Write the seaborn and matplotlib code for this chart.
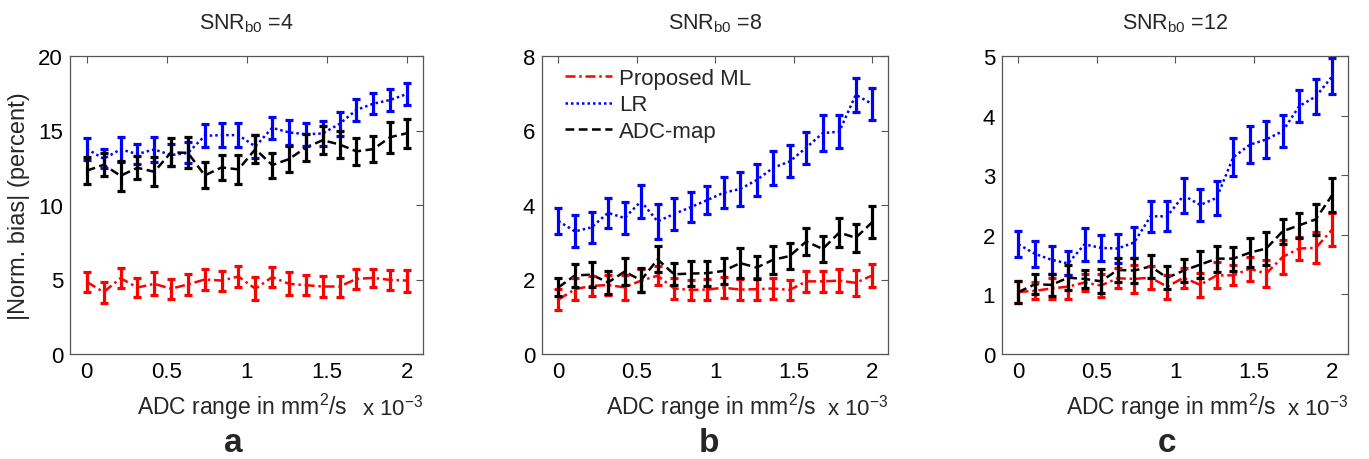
import matplotlib
matplotlib.use("Agg")
import matplotlib.pyplot as plt
import seaborn as sns
import numpy as np
import pandas as pd

# ADC values (x 10^-3 mm^2/s), 20 points between 0 and 2
adc = np.linspace(0, 2, 20)

snr_labels = ["4", "8", "12"]
panel_letters = ["a", "b", "c"]
ylims = [20, 8, 5]
yticks = [[0, 5, 10, 15, 20], [0, 2, 4, 6, 8], [0, 1, 2, 3, 4, 5]]

# SNR = 4
ml_4 = [4.84, 4.15, 5.09, 4.46, 4.71, 4.38, 4.67, 5.00, 4.93, 5.20,
        4.38, 5.16, 4.71, 4.62, 4.53, 4.53, 5.04, 5.11, 4.97, 4.93]
ml_4_err = [0.69, 0.71, 0.67, 0.64, 0.78, 0.67, 0.73, 0.73, 0.67, 0.70,
            0.78, 0.67, 0.78, 0.69, 0.70, 0.70, 0.67, 0.61, 0.70, 0.74]
lr_4 = [13.77, 13.10, 13.73, 13.42, 13.73, 13.35, 13.50, 14.64, 14.69, 14.69,
        13.93, 15.18, 14.87, 14.75, 14.80, 15.45, 16.38, 16.80, 17.05, 17.45]
lr_4_err = [0.74, 0.65, 0.86, 0.70, 0.86, 0.75, 0.70, 0.78, 0.78, 0.83,
            0.80, 0.75, 0.85, 0.78, 0.87, 0.80, 0.73, 0.70, 0.73, 0.76]
adc_4 = [12.30, 12.70, 11.96, 12.50, 12.23, 13.53, 13.50, 11.99, 12.52, 12.39,
         13.75, 12.68, 13.08, 13.86, 14.35, 14.06, 13.60, 13.75, 14.55, 14.82]
adc_4_err = [0.92, 0.78, 1.00, 0.78, 0.97, 0.94, 1.04, 0.87, 0.83, 0.97,
             0.95, 0.84, 0.89, 0.89, 0.96, 0.93, 0.93, 0.89, 1.03, 0.97]

# SNR = 8
ml_8 = [1.46, 1.74, 1.83, 1.85, 1.79, 1.97, 2.10, 1.76, 1.72, 1.73,
        1.78, 1.73, 1.74, 1.76, 1.72, 1.95, 1.95, 1.97, 1.91, 2.11]
ml_8_err = [0.28, 0.30, 0.26, 0.26, 0.33, 0.31, 0.26, 0.28, 0.28, 0.29,
            0.29, 0.29, 0.30, 0.28, 0.28, 0.29, 0.29, 0.30, 0.34, 0.31]
lr_8 = [3.57, 3.29, 3.40, 3.79, 3.65, 4.10, 3.56, 3.76, 3.94, 4.13,
        4.33, 4.43, 4.67, 5.00, 5.17, 5.54, 5.93, 5.97, 6.96, 6.71]
lr_8_err = [0.34, 0.43, 0.42, 0.41, 0.42, 0.45, 0.47, 0.42, 0.40, 0.37,
            0.41, 0.45, 0.42, 0.45, 0.43, 0.43, 0.49, 0.44, 0.46, 0.42]
adc_8 = [1.79, 2.11, 2.13, 1.92, 2.21, 1.98, 2.54, 2.14, 2.16, 2.17,
         2.23, 2.44, 2.32, 2.53, 2.63, 3.02, 2.82, 3.26, 3.12, 3.54]
adc_8_err = [0.24, 0.31, 0.33, 0.30, 0.36, 0.32, 0.35, 0.30, 0.33, 0.34,
             0.34, 0.40, 0.30, 0.37, 0.35, 0.36, 0.34, 0.39, 0.38, 0.42]

# SNR = 12
ml_12 = [1.04, 1.06, 1.10, 1.13, 1.20, 1.15, 1.27, 1.26, 1.28, 1.13,
         1.28, 1.16, 1.32, 1.32, 1.43, 1.35, 1.63, 1.77, 1.78, 2.09]
ml_12_err = [0.19, 0.14, 0.17, 0.20, 0.15, 0.19, 0.17, 0.23, 0.19, 0.20,
             0.17, 0.20, 0.22, 0.17, 0.20, 0.22, 0.28, 0.20, 0.26, 0.27]
lr_12 = [1.84, 1.68, 1.58, 1.52, 1.84, 1.78, 1.77, 1.87, 2.31, 2.31,
         2.66, 2.50, 2.62, 3.30, 3.51, 3.60, 3.74, 4.16, 4.32, 4.66]
lr_12_err = [0.22, 0.22, 0.23, 0.20, 0.28, 0.22, 0.25, 0.26, 0.26, 0.25,
             0.29, 0.27, 0.28, 0.32, 0.31, 0.31, 0.27, 0.27, 0.29, 0.30]
adc_12 = [1.04, 1.17, 1.16, 1.28, 1.26, 1.22, 1.41, 1.40, 1.47, 1.28,
          1.40, 1.50, 1.60, 1.60, 1.70, 1.77, 2.06, 2.16, 2.26, 2.67]
adc_12_err = [0.19, 0.17, 0.18, 0.21, 0.15, 0.20, 0.20, 0.21, 0.19, 0.19,
              0.19, 0.22, 0.22, 0.20, 0.24, 0.27, 0.21, 0.21, 0.26, 0.29]

panels = [
    [(ml_4, ml_4_err), (lr_4, lr_4_err), (adc_4, adc_4_err)],
    [(ml_8, ml_8_err), (lr_8, lr_8_err), (adc_8, adc_8_err)],
    [(ml_12, ml_12_err), (lr_12, lr_12_err), (adc_12, adc_12_err)],
]
methods = ["Proposed ML", "LR", "ADC-map"]
colors = {"Proposed ML": "#ff0000", "LR": "#0000ff", "ADC-map": "#000000"}
dashes = {"Proposed ML": (4, 1.5, 1, 1.5), "LR": (1, 1.2), "ADC-map": (3.5, 1.8)}

sns.set_style("white")
plt.rcParams["font.family"] = ["Liberation Sans", "DejaVu Sans"]
plt.rcParams["mathtext.fontset"] = "custom"
plt.rcParams["mathtext.rm"] = "Liberation Sans"

fig = plt.figure(figsize=(13.69, 4.60), dpi=100)
W, H = 1369, 460
boxes = [(70, 353), (542, 346), (1002, 346)]
letter_x = [233, 709, 1167]
axes = [fig.add_axes([l / W, 1 - 355 / H, w / W, 298 / H]) for l, w in boxes]

for i, ax in enumerate(axes):
    rows = []
    for m, (vals, errs) in zip(methods, panels[i]):
        for x, v, e in zip(adc, vals, errs):
            rows.append({"adc": x, "bias": v, "err": e, "method": m})
    df = pd.DataFrame(rows)

    sns.lineplot(data=df, x="adc", y="bias", hue="method", style="method",
                 palette=colors, dashes=dashes, hue_order=methods,
                 style_order=methods, linewidth=1.8, ax=ax,
                 legend=(i == 1))
    for m in methods:
        sub = df[df["method"] == m]
        ax.errorbar(sub["adc"], sub["bias"], yerr=sub["err"], fmt="none",
                    ecolor=colors[m], elinewidth=2.3, capsize=3.2,
                    capthick=2.3)

    ax.set_xlim(-0.105, 2.1)
    ax.set_ylim(0, ylims[i])
    ax.set_xticks([0, 0.5, 1, 1.5, 2])
    ax.set_xticklabels(["0", "0.5", "1", "1.5", "2"])
    ax.set_yticks(yticks[i])
    ax.tick_params(direction="in", length=5, width=0.8, labelsize=16,
                   top=True, right=True, colors="#555555", labelcolor="black",
                   pad=5)
    for s in ax.spines.values():
        s.set_color("#555555")
        s.set_linewidth(0.9)

    ax.set_xlabel("")
    ax.text(0.488, -0.175, "ADC range in mm$^2$/s", transform=ax.transAxes,
            ha="center", va="center", fontsize=16.5)
    ax.text(1.0, -0.175, r"x 10$^{-3}$", transform=ax.transAxes,
            ha="right", va="center", fontsize=16)
    ax.set_ylabel("")
    ax.set_title(r"SNR$_\mathregular{b0}$ =" + snr_labels[i], fontsize=15.5,
                 pad=20)
    fig.text(letter_x[i] / W, 1 - 452 / H, panel_letters[i],
             ha="center", va="baseline", fontsize=24, fontweight="bold")

axes[0].set_ylabel("|Norm. bias| (percent)", fontsize=17, labelpad=6)

leg = axes[1].legend(loc="upper left", frameon=False, fontsize=16,
                     handlelength=2.1, handletextpad=0.35, labelspacing=0.25,
                     borderpad=0, borderaxespad=0,
                     bbox_to_anchor=(0.066, 0.96))
for h in leg.get_lines():
    h.set_linewidth(1.8)

fig.savefig("out.png", dpi=100)
